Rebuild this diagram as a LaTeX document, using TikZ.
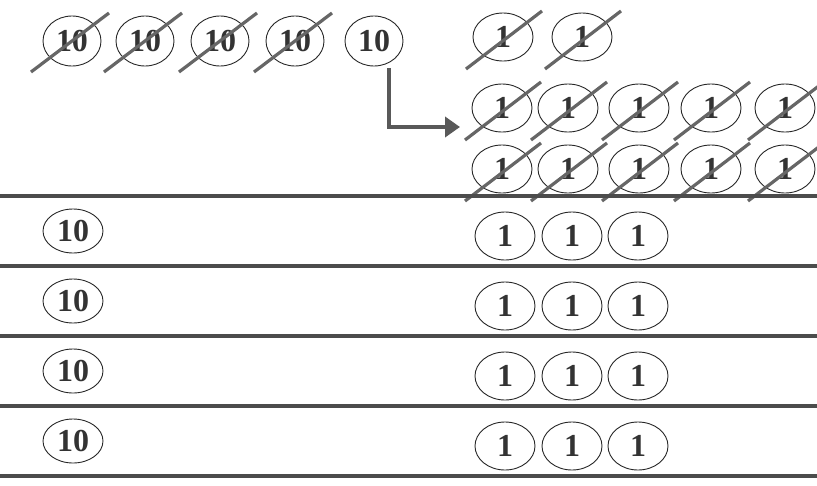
\documentclass[tikz,border=0pt]{standalone}
\usepackage{fontspec}
\setmainfont{Liberation Serif}
\usetikzlibrary{arrows.meta,shapes.geometric}
\begin{document}
\begin{tikzpicture}[x=1pt,y=-1pt,
  coin/.style={draw=black!85, line width=0.9pt, ellipse, inner sep=0pt,
    minimum width=60pt, minimum height=48pt,
    font=\fontsize{32}{32}\selectfont\bfseries, text=black!80},
  tencoin/.style={coin, minimum width=58pt, minimum height=50pt},
  lowten/.style={coin, minimum width=60pt, minimum height=44pt},
  strike/.style={draw=black!60, line width=3.2pt},
  rule/.style={draw=black!70, line width=4pt},
  arr/.style={draw=black!65, line width=4pt, -{Triangle[width=20pt,length=15pt]}}]
\useasboundingbox (0,0) rectangle (817,485);
% top row of tens
\node[tencoin] (t1) at (72,41) {10};
\node[tencoin] (t2) at (145,41) {10};
\node[tencoin] (t3) at (220,41) {10};
\node[tencoin] (t4) at (295,41) {10};
\node[tencoin] (t5) at (374,41) {10};
\foreach \n in {t1,t2,t3,t4}
  \draw[strike] ([shift={(-41,31)}]\n.center) -- ([shift={(37,-28)}]\n.center);
% ones that were traded
\node[coin] (u1) at (503,37) {1};
\node[coin] (u2) at (582,37) {1};
\foreach \i/\x in {1/502,2/568,3/639,4/711,5/785}{
  \node[coin] (m\i) at (\x,108) {1};
  \node[coin] (b\i) at (\x,169) {1};
}
\foreach \n in {u1,u2,m1,m2,m3,m4,m5,b1,b2,b3,b4,b5}
  \draw[strike] ([shift={(-37,32)}]\n.center) -- ([shift={(39,-26)}]\n.center);
% arrow
\coordinate (as) at (389,68);
\coordinate (ae) at (460,127);
\draw[arr] (as) |- (ae);
% rules
\foreach \y in {196,266,336,406,476}
  \draw[rule] (0,\y) -- (817,\y);
% rows
\foreach \r/\y in {1/196,2/266,3/336,4/406}{
  \node[lowten] (r\r) at (73,\y+35) {10};
  \node[coin] (r\r a) at (505,\y+40) {1};
  \node[coin] (r\r b) at (572,\y+40) {1};
  \node[coin] (r\r c) at (638,\y+40) {1};
}
\end{tikzpicture}
\end{document}
